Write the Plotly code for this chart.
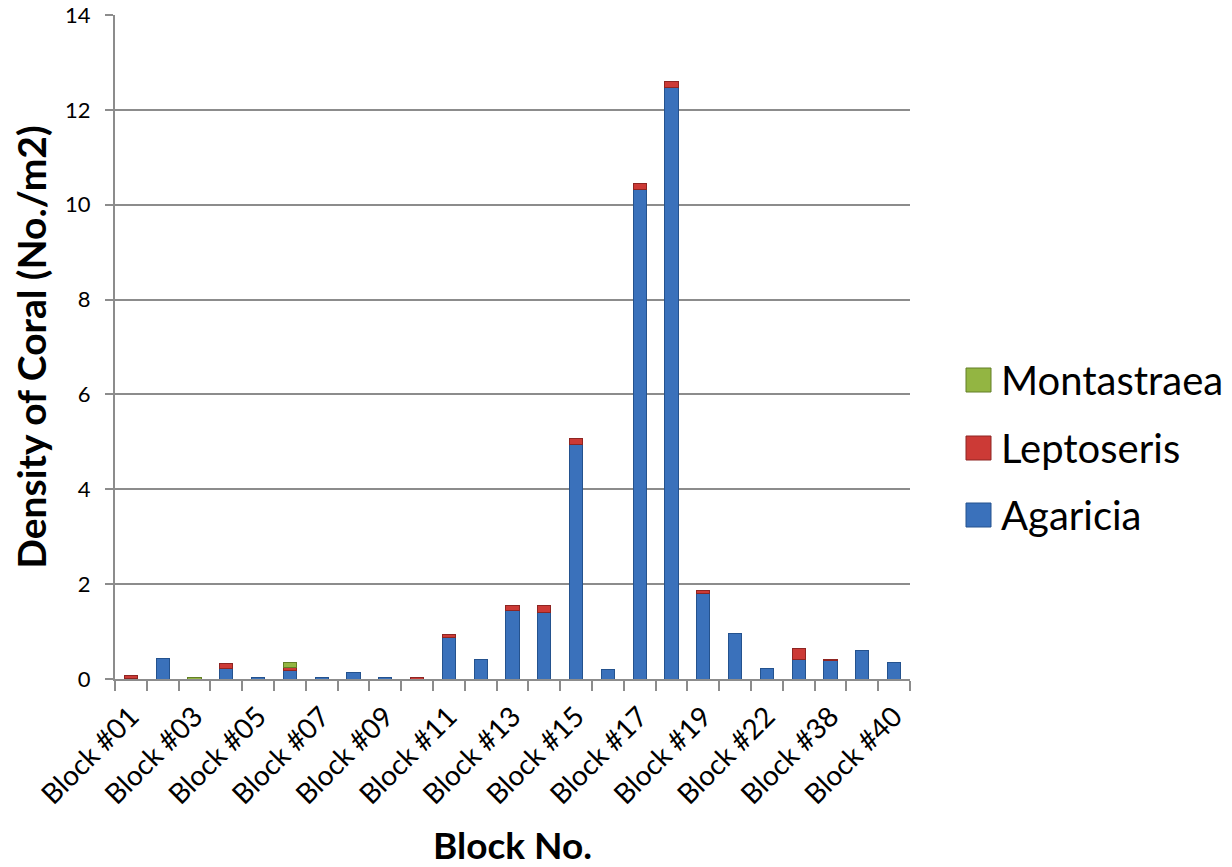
import plotly.graph_objects as go

# Coral density per survey block (No./m2), stacked by genus
blocks = ["Block #01", "Block #02", "Block #03", "Block #04", "Block #05",
          "Block #06", "Block #07", "Block #08", "Block #09", "Block #10",
          "Block #11", "Block #12", "Block #13", "Block #14", "Block #15",
          "Block #16", "Block #17", "Block #18", "Block #19", "Block #20",
          "Block #22", "Block #24", "Block #38", "Block #39", "Block #40"]

agaricia = [0.02, 0.44, 0.00, 0.22, 0.04, 0.18, 0.04, 0.13, 0.04, 0.00,
            0.87, 0.41, 1.44, 1.41, 4.94, 0.21, 10.33, 12.47, 1.80, 0.95,
            0.22, 0.41, 0.38, 0.61, 0.35]
leptoseris = [0.06, 0.00, 0.00, 0.10, 0.00, 0.06, 0.00, 0.00, 0.00, 0.03,
              0.06, 0.00, 0.10, 0.15, 0.14, 0.00, 0.12, 0.13, 0.06, 0.00,
              0.00, 0.24, 0.04, 0.00, 0.00]
montastraea = [0.00, 0.00, 0.03, 0.00, 0.00, 0.11, 0.00, 0.00, 0.00, 0.00,
               0.00, 0.00, 0.00, 0.00, 0.00, 0.00, 0.00, 0.00, 0.00, 0.00,
               0.00, 0.00, 0.00, 0.00, 0.00]

# only every other block is labelled on the axis
shown_labels = ["Block #01", "Block #03", "Block #05", "Block #07", "Block #09",
                "Block #11", "Block #13", "Block #15", "Block #17", "Block #19",
                "Block #22", "Block #38", "Block #40"]

y_ticks = [0, 2, 4, 6, 8, 10, 12, 14]

series = [
    ("Agaricia", agaricia, "#3a71bb", "#24528e"),
    ("Leptoseris", leptoseris, "#cc3a36", "#8e2522"),
    ("Montastraea", montastraea, "#93b542", "#637f26"),
]

fig = go.Figure()
for name, vals, fill, edge in series:
    # empty segments are skipped so they leave no outline on the stack
    fig.add_trace(go.Bar(
        x=blocks, y=[v if v > 0 else None for v in vals], name=name,
        marker=dict(color=fill, line=dict(color=edge, width=1)),
        showlegend=False,
    ))

grid_col = "#8c8c8c"
L, R, T, B = 115, 910, 15, 679
W, H = 1232, 867

fig.update_layout(
    barmode="stack",
    bargap=0.59,
    width=W, height=H,
    margin=dict(l=L, r=W - R, t=T, b=H - B, autoexpand=False),
    plot_bgcolor="white", paper_bgcolor="white",
    font=dict(family="Lato, 'Open Sans', sans-serif", color="black"),
    xaxis=dict(
        type="category",
        tickvals=blocks,
        ticktext=[b if b in shown_labels else "" for b in blocks],
        tickangle=-45,
        tickfont=dict(size=28),
        ticks="outside", tickson="boundaries", ticklen=10, tickwidth=2,
        tickcolor=grid_col,
        ticklabelstandoff=8,
        showline=True, linecolor=grid_col, linewidth=2,
        showgrid=False,
        title=dict(text="<b>Block No.</b>", font=dict(size=37), standoff=25),
    ),
    yaxis=dict(
        range=[0, 14],
        tickvals=y_ticks,
        tickfont=dict(size=22),
        ticks="outside", ticklen=8, tickwidth=2, tickcolor=grid_col,
        ticklabelstandoff=10,
        showline=True, linecolor=grid_col, linewidth=2,
        showgrid=True, gridcolor=grid_col, gridwidth=2,
        zeroline=False,
        title=dict(text="<b>Density of Coral (No./m2)</b>", font=dict(size=39),
                   standoff=6),
    ),
)

# legend drawn as swatches with labels to the right of the plot
legend_rows = [("Montastraea", "#93b542", "#637f26"),
               ("Leptoseris", "#cc3a36", "#8e2522"),
               ("Agaricia", "#3a71bb", "#24528e")]
row_y = [380, 448, 515]
pw, ph = R - L, B - T
for (name, fill, edge), yc in zip(legend_rows, row_y):
    fig.add_shape(type="rect", xref="paper", yref="paper",
                  x0=(966 - L) / pw, x1=(991 - L) / pw,
                  y0=(B - (yc + 12)) / ph, y1=(B - (yc - 12)) / ph,
                  fillcolor=fill, line=dict(color=edge, width=1))
    fig.add_annotation(xref="paper", yref="paper",
                       x=(999 - L) / pw, y=(B - yc) / ph,
                       text=name, showarrow=False, xanchor="left",
                       yanchor="middle", font=dict(size=40, color="black"))

fig.write_html("out.html")
